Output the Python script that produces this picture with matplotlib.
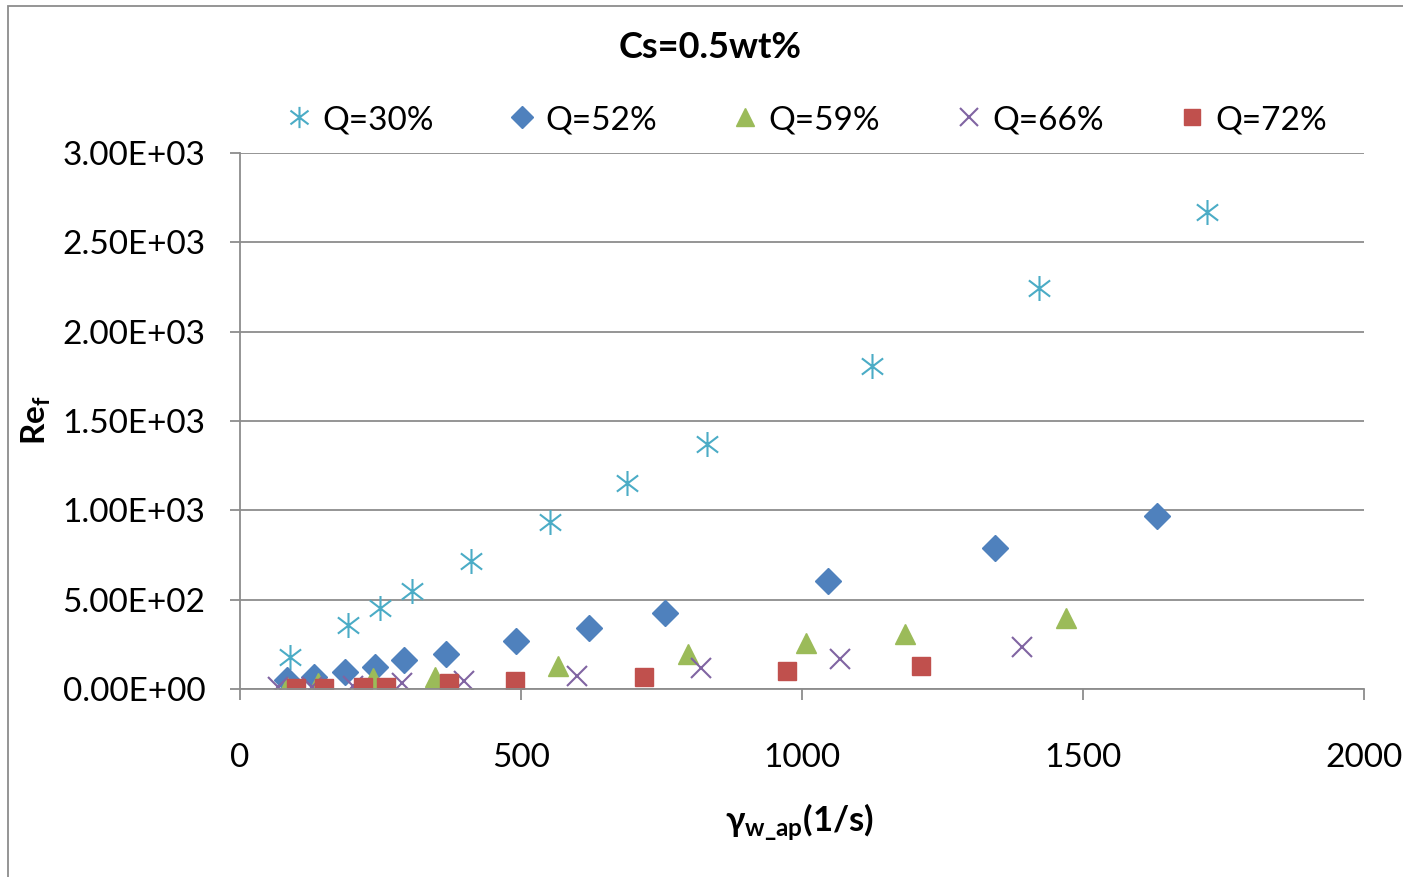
import matplotlib
matplotlib.use('Agg')
import matplotlib.pyplot as plt
from matplotlib.path import Path
from matplotlib.patches import Rectangle
from matplotlib.ticker import FuncFormatter

plt.rcParams['font.family'] = ['Lato', 'DejaVu Sans']
plt.rcParams['mathtext.fontset'] = 'custom'
plt.rcParams['mathtext.rm'] = 'Lato'
plt.rcParams['mathtext.bf'] = 'Lato:bold'
plt.rcParams['mathtext.it'] = 'Lato:italic'

# data: shear rate (1/s) vs Re_f
x_q30 = [89, 192, 249, 306, 411, 552, 689, 831, 1125, 1422, 1721]
y_q30 = [179, 358, 453, 548, 716, 935, 1153, 1371, 1808, 2244, 2670]

x_q52 = [83, 132, 187, 240, 291, 366, 491, 621, 756, 1046, 1343, 1632]
y_q52 = [50, 69, 97, 125, 162, 196, 269, 343, 425, 604, 789, 968]

x_q59 = [83, 139, 237, 347, 566, 797, 1007, 1183, 1470]
y_q59 = [13, 34, 62, 69, 129, 196, 257, 308, 397]

x_q66 = [68, 128, 201, 288, 399, 599, 820, 1068, 1391]
y_q66 = [13, 13, 17, 32, 46, 74, 118, 168, 235]

x_q72 = [100, 149, 218, 260, 372, 489, 718, 973, 1211]
y_q72 = [4, 4, 13, 13, 35, 45, 69, 101, 129]

labels = ['Q=30%', 'Q=52%', 'Q=59%', 'Q=66%', 'Q=72%']

# excel style asterisk marker
star = Path([(0, -1), (0, 1), (-0.85, -0.65), (0.85, 0.65), (-0.85, 0.65), (0.85, -0.65)],
            [Path.MOVETO, Path.LINETO, Path.MOVETO, Path.LINETO, Path.MOVETO, Path.LINETO])

fig = plt.figure(figsize=(14.03, 8.77), dpi=100)
ax = fig.add_axes([240/1403, 1-689/877, (1364-240)/1403, (689-153)/877])

ax.plot(x_q30, y_q30, ls='none', marker=star, ms=18, mew=1.5, mfc='none', mec='#4BACC6', label=labels[0])
ax.plot(x_q52, y_q52, ls='none', marker='D', ms=13, color='#4F81BD', mec='#4F81BD', label=labels[1])
ax.plot(x_q59, y_q59, ls='none', marker='^', ms=15, color='#9BBB59', mec='#9BBB59', label=labels[2])
ax.plot(x_q66, y_q66, ls='none', marker='x', ms=15, mew=1.5, color='#8064A2', label=labels[3])
ax.plot(x_q72, y_q72, ls='none', marker='s', ms=13, color='#C0504D', mec='#C0504D', label=labels[4])

ax.set_xlim(0, 2000)
ax.set_ylim(0, 3000)
ax.set_xticks([0, 500, 1000, 1500, 2000])
ax.set_yticks([0, 500, 1000, 1500, 2000, 2500, 3000])
ax.yaxis.set_major_formatter(FuncFormatter(lambda v, p: f'{v:.2E}'))
ax.grid(axis='y', color='#8c8c8c', lw=1.3)
ax.set_axisbelow(True)
for s in ['top', 'right']:
    ax.spines[s].set_visible(False)
for s in ['left', 'bottom']:
    ax.spines[s].set_color('#8c8c8c')
    ax.spines[s].set_linewidth(1.3)
ax.tick_params(axis='y', length=7, width=1.3, color='#8c8c8c', pad=18, labelsize=24)
ax.tick_params(axis='x', length=8, width=1.3, color='#8c8c8c', pad=31, labelsize=24)

fig.text(710/1403, 1-48/877, 'Cs=0.5wt%', ha='center', va='center', fontsize=26, fontweight='bold')
fig.text(800/1403, 1-822/877, r'γ$_{\mathbf{w\_ap}}$(1/s)', ha='center', va='center', fontsize=25, fontweight='bold')
fig.text(36/1403, 1-420/877, r'Re$_{\mathbf{f}}$', ha='center', va='center', fontsize=24, fontweight='bold', rotation=90)

fig.legend(loc='center', bbox_to_anchor=(803/1403, 1-120/877), ncol=5, frameon=False,
           fontsize=24, columnspacing=2.05, handletextpad=0.1, handlelength=1.2, markerscale=0.85)

fig.patches.append(Rectangle((8/1403, -0.01), 1.1, 1-6/877+0.01, transform=fig.transFigure,
                             fill=False, edgecolor='#8c8c8c', lw=1.3))

fig.savefig('out.png', dpi=100)
